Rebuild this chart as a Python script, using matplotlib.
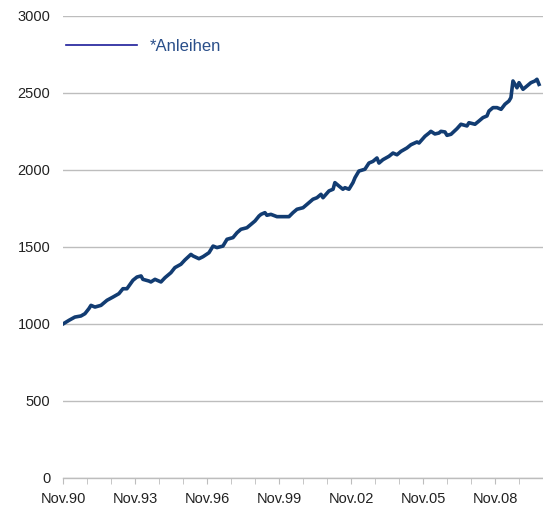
import matplotlib.pyplot as plt
import matplotlib
import matplotlib.dates as mdates
from matplotlib.ticker import FixedLocator
import pandas as pd

matplotlib.rcParams['font.family'] = ['Liberation Sans', 'DejaVu Sans']

# monthly readings of the index (Nov.90 = 1000)
dates = ['1990-11', '1991-02', '1991-05', '1991-08', '1991-10', '1991-12', '1992-01', '1992-03',
         '1992-06', '1992-09', '1992-12', '1993-03', '1993-05', '1993-07', '1993-10', '1993-12',
         '1994-02', '1994-03', '1994-06', '1994-07', '1994-09', '1994-12', '1995-02', '1995-05',
         '1995-07', '1995-10', '1995-12', '1996-03', '1996-04', '1996-07', '1996-09', '1996-12',
         '1997-02', '1997-04', '1997-07', '1997-09', '1997-12', '1998-02', '1998-04', '1998-07',
         '1998-09', '1998-11', '1999-01', '1999-02', '1999-04', '1999-05', '1999-07', '1999-10',
         '2000-01', '2000-04', '2000-06', '2000-08', '2000-11', '2001-01', '2001-04', '2001-06',
         '2001-08', '2001-09', '2001-12', '2002-02', '2002-03', '2002-05', '2002-07', '2002-08',
         '2002-10', '2002-12', '2003-01', '2003-03', '2003-06', '2003-08', '2003-10', '2003-12',
         '2004-01', '2004-03', '2004-06', '2004-08', '2004-10', '2004-12', '2005-03', '2005-05',
         '2005-08', '2005-09', '2005-12', '2006-02', '2006-03', '2006-05', '2006-07', '2006-08',
         '2006-10', '2006-11', '2007-01', '2007-04', '2007-06', '2007-09', '2007-10', '2008-01',
         '2008-03', '2008-05', '2008-07', '2008-08', '2008-10', '2008-12', '2009-02', '2009-04',
         '2009-06', '2009-07', '2009-08', '2009-10', '2009-11', '2010-01', '2010-03', '2010-05',
         '2010-07', '2010-08', '2010-09']
values = [1000, 1024, 1045, 1052, 1067, 1100, 1121, 1110,
          1121, 1154, 1175, 1197, 1229, 1229, 1284, 1305,
          1312, 1290, 1279, 1273, 1290, 1273, 1301, 1333,
          1366, 1388, 1416, 1452, 1442, 1424, 1437, 1463,
          1506, 1496, 1506, 1550, 1561, 1593, 1615, 1625,
          1647, 1669, 1701, 1712, 1723, 1706, 1712, 1697,
          1697, 1697, 1723, 1745, 1755, 1777, 1810, 1820,
          1842, 1820, 1864, 1875, 1918, 1896, 1875, 1885,
          1875, 1918, 1950, 1993, 2005, 2045, 2056, 2078,
          2045, 2067, 2089, 2110, 2099, 2121, 2143, 2164,
          2182, 2175, 2219, 2240, 2251, 2234, 2240, 2251,
          2247, 2225, 2232, 2268, 2297, 2286, 2307, 2297,
          2318, 2340, 2351, 2383, 2405, 2405, 2394, 2427,
          2448, 2470, 2578, 2534, 2567, 2524, 2545, 2567,
          2578, 2589, 2556]

tick_dates = ['1990-11', '1993-11', '1996-11', '1999-11', '2002-11', '2005-11', '2008-11']
tick_labels = ['Nov.90', 'Nov.93', 'Nov.96', 'Nov.99', 'Nov.02', 'Nov.05', 'Nov.08']

x = pd.to_datetime(dates)

fig = plt.figure(figsize=(5.43, 5.11), dpi=100)
ax = fig.add_axes([0.116, 0.0646, 0.884, 0.9041])

ax.plot(x, values, color='#123C72', lw=2.6, solid_joinstyle='round', zorder=3)

ax.set_ylim(0, 3000)
ax.set_yticks(range(0, 3001, 500))
ax.set_xlim(pd.Timestamp('1990-11-01'), pd.Timestamp('2010-11-01'))

ax.xaxis.set_major_locator(FixedLocator(mdates.date2num(pd.to_datetime(tick_dates))))
ax.xaxis.set_minor_locator(mdates.MonthLocator(bymonth=11))
ax.set_xticklabels(tick_labels)

ax.yaxis.grid(True, color='#BDBDBD', lw=1.0)
ax.set_axisbelow(True)
for s in ['top', 'right', 'left']:
    ax.spines[s].set_visible(False)
ax.spines['bottom'].set_color('#BDBDBD')
ax.spines['bottom'].set_linewidth(1.0)

ax.tick_params(axis='y', length=0, pad=9, labelsize=10.5, labelcolor='#222222')
ax.tick_params(axis='x', which='both', length=4, color='#BDBDBD', direction='out',
               pad=6, labelsize=10.5, labelcolor='#222222')

ax.legend([plt.Line2D([], [], color='#1C1C9A', lw=1.2)], ['*Anleihen'],
          loc='upper left', bbox_to_anchor=(-0.025, 0.982), frameon=False,
          handlelength=4.25, handletextpad=0.75, fontsize=12, labelcolor='#2A4F8A')

plt.savefig('out.png', dpi=100)
